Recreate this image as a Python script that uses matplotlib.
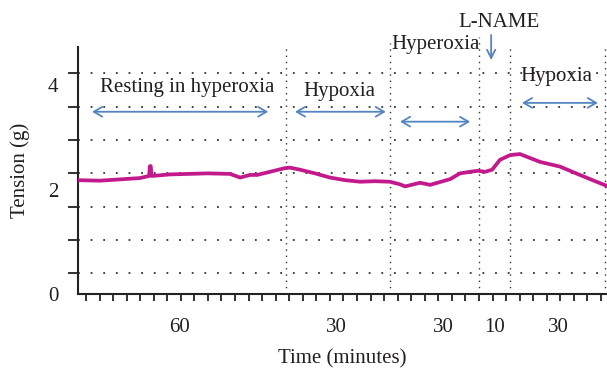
import numpy as np
import matplotlib
matplotlib.use('Agg')
import matplotlib.pyplot as plt

plt.rcParams['font.family'] = ['Liberation Serif', 'DejaVu Serif']

# trace (minutes, grams)
time_min = [-2.4, 4.1, 15.9, 18.6, 18.9, 19.1, 19.4, 24.8, 36.0, 42.5, 45.5, 48.4, 50.5,
            54.3, 58.7, 60.2, 63.2, 67.6, 72.0, 76.5, 80.9, 85.3, 89.7, 92.7, 94.2,
            98.6, 101.6, 107.5, 110.4, 113.4, 115.7, 117.8, 119.9, 122.2, 125.2,
            128.1, 134.0, 139.9, 145.8, 150.3, 153.8]
tension_g = [2.18, 2.17, 2.22, 2.26, 2.45, 2.45, 2.26, 2.29, 2.31, 2.30, 2.23, 2.28, 2.28,
             2.34, 2.41, 2.42, 2.38, 2.31, 2.23, 2.18, 2.15, 2.16, 2.15, 2.10, 2.06,
             2.13, 2.09, 2.20, 2.31, 2.34, 2.36, 2.34, 2.38, 2.57, 2.66, 2.68,
             2.53, 2.44, 2.28, 2.16, 2.07]

# phase boundaries (minutes) and how far up each dotted line goes
boundaries = [59.0, 89.7, 116.0, 125.2, 153.2]
boundary_tops = [4.73, 4.81, 4.92, 4.73, 4.73]

# dotted grid levels
grid_levels = [0.40, 1.04, 1.67, 2.31, 2.95, 3.58, 4.23]

# segment duration labels
dur_x = [27.7, 73.8, 105.4, 120.7, 139.3]
dur_labels = ['60', '30', '30', '10', '30']

# double arrows for each phase: (x0, x1, y)
phase_arrows = [(1.8, 53.8, 3.49), (61.7, 88.5, 3.49), (92.7, 113.4, 3.30), (128.7, 151.1, 3.66)]
phase_text = [('Resting in hyperoxia', 29.8, 3.95), ('Hypoxia', 74.7, 3.87),
              ('Hyperoxia', 103.3, 4.77), ('Hypoxia', 138.9, 4.16), ('L-NAME', 121.9, 5.19)]

txt = '#231f20'
trace_col = '#c21a8c'
arrow_col = '#5585c0'

fig = plt.figure(figsize=(6.07, 3.68), dpi=100)
ax = fig.add_axes([78 / 607, 1 - 294 / 368, 529 / 607, 247 / 368])

for yl in grid_levels:
    ax.axhline(yl, color='#333333', lw=1.3, linestyle=(0, (1, 6)), zorder=1)
for xb, top in zip(boundaries, boundary_tops):
    ax.plot([xb, xb], [0, top], color='#333333', lw=1.0, linestyle=(0, (1, 3.5)),
            clip_on=False, zorder=1)

ax.plot(time_min, tension_g, color=trace_col, lw=2.7, zorder=3)

for x0, x1, y in phase_arrows:
    ax.annotate('', xy=(x1, y), xytext=(x0, y),
                arrowprops=dict(arrowstyle='<->,head_length=0.6,head_width=0.35',
                                color=arrow_col, lw=1.3, shrinkA=0, shrinkB=0))
# L-NAME marker
ax.annotate('', xy=(119.6, 4.48), xytext=(119.6, 4.96),
            arrowprops=dict(arrowstyle='->,head_length=0.6,head_width=0.3',
                            color=arrow_col, lw=1.3, shrinkA=0, shrinkB=0),
            annotation_clip=False)

for label, x, y in phase_text:
    ax.text(x, y, label, ha='center', va='center', fontsize=15, color=txt)

for x, lab in zip(dur_x, dur_labels):
    ax.annotate(lab, xy=(x, 0), xycoords=('data', 'axes fraction'),
                xytext=(0, -24), textcoords='offset points',
                ha='center', va='center', fontsize=15, color=txt)

ax.set_xlim(-2.36, 153.8)
ax.set_ylim(0, 4.73)

ax.set_xticks(np.arange(0, 153, 4))
ax.set_xticklabels([])
ax.tick_params(axis='x', direction='out', length=5, width=1.3, color='#222222')

ax.set_yticks([0, 2, 4])
ax.set_yticklabels(['0', '2', '4'], fontsize=15, color=txt)
ax.set_yticks(grid_levels, minor=True)
ax.tick_params(axis='y', which='major', length=0, pad=14)
ax.tick_params(axis='y', which='minor', direction='out', length=7, width=1.3, color='#222222')

for side in ['top', 'right']:
    ax.spines[side].set_visible(False)
for side in ['left', 'bottom']:
    ax.spines[side].set_linewidth(1.5)
    ax.spines[side].set_color('#222222')

ax.set_xlabel('Time (minutes)', fontsize=15, color=txt, labelpad=31)
ax.set_ylabel('Tension (g)', fontsize=15, color=txt, labelpad=13)

fig.savefig('out.png', dpi=100)
